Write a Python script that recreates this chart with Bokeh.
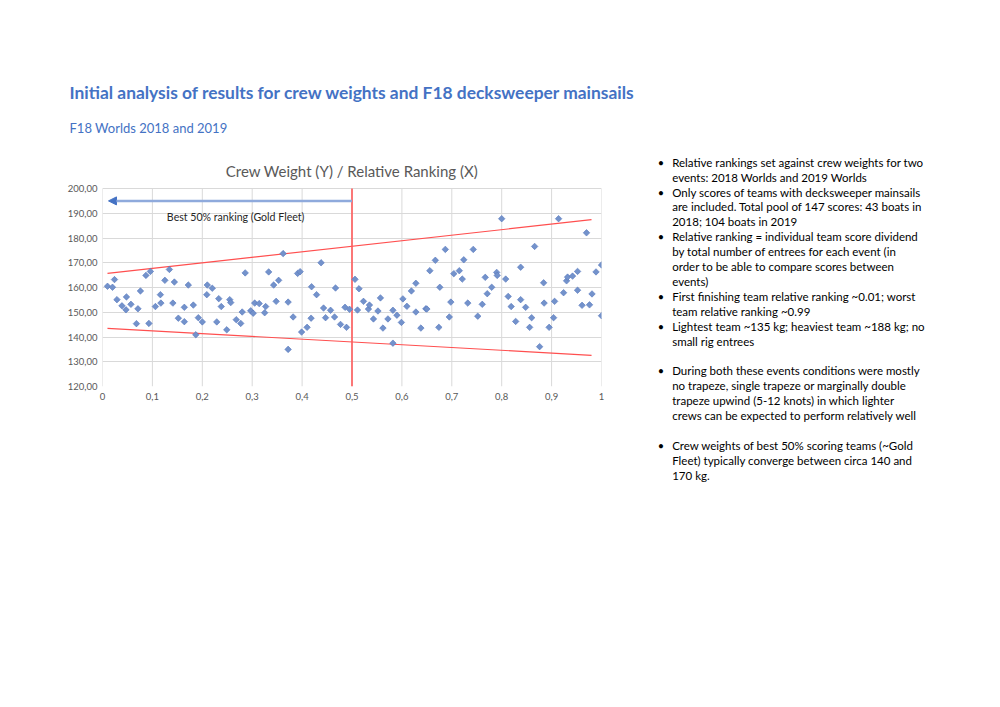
import math
from bokeh.plotting import figure
from bokeh.models import Range1d, FixedTicker, Arrow, NormalHead, Label
from bokeh.layouts import column, row
from bokeh.embed import file_html
from bokeh.resources import INLINE
from bokeh.core.properties import value

FONT = "Lato"

page_title = "Initial analysis of results for crew weights and F18 decksweeper mainsails"
sub_title = "F18 Worlds 2018 and 2019"
chart_title = "Crew Weight (Y) / Relative Ranking (X)"
arrow_label = "Best 50% ranking (Gold Fleet)"

ranking = [0.010, 0.020, 0.024, 0.029, 0.039, 0.047, 0.048, 0.057, 0.068, 0.071,
           0.076, 0.087, 0.093, 0.096, 0.106, 0.116, 0.117, 0.125, 0.134, 0.141,
           0.144, 0.152, 0.164, 0.164, 0.172, 0.182, 0.187, 0.192, 0.200, 0.210,
           0.209, 0.220, 0.229, 0.233, 0.238, 0.249, 0.255, 0.257, 0.268, 0.277,
           0.280, 0.286, 0.297, 0.302, 0.305, 0.314, 0.325, 0.327, 0.333, 0.343,
           0.348, 0.353, 0.362, 0.372, 0.372, 0.382, 0.391, 0.396, 0.399, 0.410,
           0.418, 0.419, 0.429, 0.438, 0.443, 0.447, 0.457, 0.465, 0.467, 0.477,
           0.486, 0.489, 0.495, 0.506, 0.511, 0.514, 0.523, 0.533, 0.535, 0.543,
           0.552, 0.557, 0.562, 0.572, 0.582, 0.582, 0.590, 0.599, 0.602, 0.610,
           0.619, 0.628, 0.628, 0.638, 0.648, 0.650, 0.656, 0.667, 0.674, 0.676,
           0.687, 0.695, 0.698, 0.704, 0.715, 0.721, 0.724, 0.732, 0.743, 0.752,
           0.761, 0.767, 0.771, 0.780, 0.790, 0.791, 0.800, 0.808, 0.813, 0.819,
           0.828, 0.838, 0.838, 0.848, 0.856, 0.860, 0.866, 0.876, 0.884, 0.885,
           0.895, 0.904, 0.906, 0.914, 0.924, 0.930, 0.932, 0.942, 0.952, 0.952,
           0.961, 0.970, 0.976, 0.981, 0.989, 1.000, 1.000]

weight = [160.5, 160.1, 163.2, 155.1, 152.6, 151.0, 156.2, 153.2, 145.4, 151.4,
          158.6, 164.9, 145.5, 166.5, 152.3, 157.1, 153.7, 162.9, 167.3, 153.7,
          162.2, 147.6, 152.0, 146.2, 161.0, 152.9, 140.9, 147.8, 146.1, 161.0,
          157.1, 159.7, 146.1, 155.5, 152.3, 142.9, 155.1, 153.9, 147.0, 145.5,
          150.1, 165.9, 150.6, 149.6, 153.7, 153.5, 149.8, 152.3, 166.3, 161.0,
          154.4, 162.9, 173.7, 154.1, 135.0, 148.1, 165.7, 166.4, 142.0, 143.9,
          147.6, 160.3, 157.1, 170.0, 151.7, 147.8, 150.8, 148.1, 159.8, 145.1,
          152.0, 143.9, 151.2, 163.3, 150.9, 159.5, 154.4, 151.3, 152.9, 147.3,
          150.5, 155.8, 143.6, 147.3, 150.8, 137.5, 148.8, 145.9, 155.4, 152.4,
          158.6, 161.7, 150.1, 143.6, 151.4, 151.3, 166.8, 171.0, 143.9, 160.1,
          175.4, 148.1, 154.1, 165.6, 166.8, 163.4, 171.2, 153.7, 175.4, 148.4,
          153.2, 164.1, 157.5, 160.1, 166.1, 164.9, 187.8, 163.4, 156.4, 152.3,
          146.3, 168.2, 155.1, 152.0, 143.9, 147.8, 176.6, 136.1, 161.9, 153.7,
          143.9, 147.8, 154.4, 187.8, 157.9, 162.7, 164.2, 164.6, 166.5, 158.9,
          152.8, 182.1, 153.0, 157.4, 166.3, 169.1, 148.6]

x_ticks = [0, 0.1, 0.2, 0.3, 0.4, 0.5, 0.6, 0.7, 0.8, 0.9, 1]
x_tick_labels = ["0", "0,1", "0,2", "0,3", "0,4", "0,5", "0,6", "0,7", "0,8", "0,9", "1"]
y_ticks = [120, 130, 140, 150, 160, 170, 180, 190, 200]
y_tick_labels = ["120,00", "130,00", "140,00", "150,00", "160,00",
                 "170,00", "180,00", "190,00", "200,00"]

trend_x = [0.01, 0.98]
upper_trend = [165.7, 187.4]
lower_trend = [143.5, 132.6]
gold_fleet_cut = 0.5
arrow_y = 195
arrow_tip = 0.012
label_x = 0.129
label_y = 188.6

bullets = [
    (["Relative rankings set against crew weights for two",
      "events: 2018 Worlds and 2019 Worlds"], False),
    (["Only scores of teams with decksweeper mainsails",
      "are included. Total pool of 147 scores: 43 boats in",
      "2018; 104 boats in 2019"], False),
    (["Relative ranking = individual team score dividend",
      "by total number of entrees for each event (in",
      "order to be able to compare scores between",
      "events)"], False),
    (["First finishing team relative ranking ~0.01; worst",
      "team relative ranking ~0.99"], False),
    (["Lightest team ~135 kg; heaviest team ~188 kg; no",
      "small rig entrees"], True),
    (["During both these events conditions were mostly",
      "no trapeze, single trapeze or marginally double",
      "trapeze upwind (5-12 knots) in which lighter",
      "crews can be expected to perform relatively well"], True),
    (["Crew weights of best 50% scoring teams (~Gold",
      "Fleet) typically converge between circa 140 and",
      "170 kg."], False),
]

assert len(ranking) == len(weight)

BLUE = "#4472C4"
GREY = "#595959"
GRID = "#D9D9D9"

# ---- page geometry (pixels) ----
PAGE_W = 992
HEAD_H = 184                  # header band; the chart row starts here
PLOT_L, PLOT_W = 102, 499     # plot frame left / width
PLOT_TOP_VALUE_PX = 188       # page y of the 200 gridline
PLOT_BOTTOM_PX = 385.5        # page y of the 120 gridline
BOTTOM_BORDER = 24
CHART_W = 630
NOTE_W = PAGE_W - CHART_W
ROW_H = 699 - HEAD_H

px_per_unit = (PLOT_BOTTOM_PX - PLOT_TOP_VALUE_PX) / (y_ticks[-1] - y_ticks[0])
y_top = y_ticks[-1] + (PLOT_TOP_VALUE_PX - HEAD_H) / px_per_unit
chart_h = int(round(PLOT_BOTTOM_PX - HEAD_H)) + BOTTOM_BORDER


def text_fig(w, h, x0, y0, bottom=0):
    """Figure whose frame spans page pixels; ranges are page coordinates."""
    f = figure(width=w, height=h,
               x_range=Range1d(x0, x0 + w),
               y_range=Range1d(y0 + h - bottom, y0),
               output_backend="svg", toolbar_location=None,
               min_border_left=0, min_border_right=0,
               min_border_top=0, min_border_bottom=bottom,
               x_axis_type=None, y_axis_type=None, title=None)
    f.outline_line_color = None
    f.background_fill_color = "white"
    f.border_fill_color = "white"
    return f


def line_y(i):
    return 161.7 + i * 14.9


# bullet lines -> (x_bullet, x_text, y, text, is_first_line)
note_rows = []
k = 0
for lines, gap_after in bullets:
    for j, ln in enumerate(lines):
        note_rows.append((line_y(k), ln, j == 0))
        k += 1
    if gap_after:
        k += 1


def draw_notes(f, rows):
    if not rows:
        return
    f.text(x=[657.3 for r in rows if r[2]], y=[r[0] for r in rows if r[2]],
           text=["\u2022" for r in rows if r[2]], text_font=value(FONT),
           text_font_size="11px", text_color="#000000", text_baseline="middle")
    f.text(x=[671.7] * len(rows), y=[r[0] for r in rows], text=[r[1] for r in rows],
           text_font=value(FONT), text_font_size="11.5px", text_color="#000000",
           text_baseline="middle")


# ---- header band: page title, subtitle, chart title, first note lines ----
hdr = text_fig(PAGE_W, HEAD_H, 0, 0)
hdr.text(x=[69], y=[91.7], text=[page_title], text_font=value(FONT),
         text_font_size="17.4px", text_font_style="bold", text_color=BLUE,
         text_baseline="alphabetic", text_align="left")
hdr.text(x=[69], y=[127.5], text=[sub_title], text_font=value(FONT),
         text_font_size="13px", text_color=BLUE,
         text_baseline="alphabetic", text_align="left")
hdr.text(x=[PLOT_L + PLOT_W / 2], y=[170.7], text=[chart_title], text_font=value(FONT),
         text_font_size="15px", text_color=GREY,
         text_baseline="alphabetic", text_align="center")
draw_notes(hdr, [r for r in note_rows if r[0] < HEAD_H - 5])

# ---- scatter chart ----
p = figure(width=CHART_W, height=chart_h,
           x_range=Range1d(x_ticks[0], x_ticks[-1]), y_range=Range1d(y_ticks[0], y_top),
           output_backend="svg", toolbar_location=None, title=None,
           min_border_left=PLOT_L, min_border_right=CHART_W - PLOT_L - PLOT_W,
           min_border_top=0, min_border_bottom=BOTTOM_BORDER)
p.outline_line_color = None
p.background_fill_color = "white"
p.border_fill_color = "white"

for ax, ticks, labels in ((p.xaxis[0], x_ticks, x_tick_labels),
                          (p.yaxis[0], y_ticks, y_tick_labels)):
    ax.ticker = FixedTicker(ticks=ticks)
    ax.major_label_overrides = dict(zip(ticks, labels))
    ax.major_tick_out = 0
    ax.major_tick_in = 0
    ax.minor_tick_out = 0
    ax.minor_tick_in = 0
    ax.axis_line_color = None
    ax.major_label_text_color = GREY
    ax.major_label_text_font = FONT
    ax.major_label_text_font_size = "9.5px"
p.xaxis.major_label_standoff = 6
p.yaxis.major_label_standoff = 5

# horizontal grid from the y ticks; vertical grid lines stop at the 200 line
p.xgrid.visible = False
p.ygrid.ticker = FixedTicker(ticks=y_ticks)
p.ygrid.grid_line_color = GRID
p.segment(x0=x_ticks, y0=[y_ticks[0]] * len(x_ticks),
          x1=x_ticks, y1=[y_ticks[-1]] * len(x_ticks),
          line_color=GRID, line_width=1)

p.line(trend_x, upper_trend, line_color="#FF4F4F", line_width=1.2)
p.line(trend_x, lower_trend, line_color="#FF4F4F", line_width=1.2)
p.segment(x0=[gold_fleet_cut], y0=[y_ticks[0]], x1=[gold_fleet_cut], y1=[y_ticks[-1]],
          line_color="#FF5A5A", line_width=1.6)

p.scatter(ranking, weight, marker="square", angle=math.pi / 4, size=4.6,
          fill_color="#7392CB", line_color="#5577BD", line_width=0.6)

p.add_layout(Arrow(end=NormalHead(size=8, fill_color=BLUE, line_color=BLUE),
                   x_start=gold_fleet_cut, y_start=arrow_y,
                   x_end=arrow_tip, y_end=arrow_y,
                   line_color="#8FAADC", line_width=2.5))
p.add_layout(Label(x=label_x, y=label_y, text=arrow_label, text_font=FONT,
                   text_font_size="10.6px", text_baseline="middle",
                   text_color="#262626"))

# ---- remaining note lines (same borders as the chart so frames align) ----
bf = text_fig(NOTE_W, ROW_H, CHART_W, HEAD_H, bottom=BOTTOM_BORDER)
draw_notes(bf, [r for r in note_rows if r[0] >= HEAD_H - 5])

layout = column(hdr, row(p, bf))
open("out.html", "w").write(file_html(layout, INLINE))
